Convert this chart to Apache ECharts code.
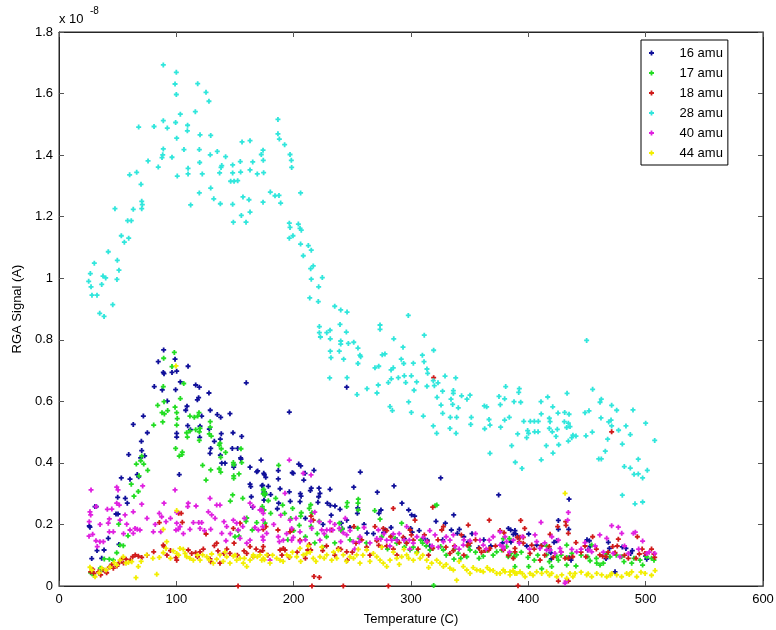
<!DOCTYPE html>
<html><head><meta charset="utf-8">
<script src="https://cdn.jsdelivr.net/npm/echarts@6/dist/echarts.min.js"></script>
<style>html,body{margin:0;padding:0;background:#fff}#c{width:776px;height:630px}</style>
</head><body><div id="c"></div>
<script>
// Values in units of 1e-8 A
const xTicks = [0, 100, 200, 300, 400, 500, 600];
const yTicks = [0, 0.2, 0.4, 0.6, 0.8, 1.0, 1.2, 1.4, 1.6, 1.8];
const seriesNames = ['16 amu', '17 amu', '18 amu', '28 amu', '40 amu', '44 amu'];

const amu16 = [[89.2,0.767],[84.6,0.729],[98.9,0.737],[110,0.714],[88.9,0.694],[89.5,0.69],[96.3,0.694],[100.3,0.698],[103.4,0.663],[81.2,0.648],[88,0.637],[99.4,0.638],[116.5,0.653],[119.6,0.646],[127.8,0.627],[159.6,0.66],[92.3,0.601],[109.1,0.584],[108,0.571],[119,0.612],[117.9,0.605],[128.9,0.571],[134.9,0.557],[137.8,0.548],[145.7,0.56],[71.9,0.552],[121.6,0.552],[109.7,0.521],[112,0.508],[120.2,0.519],[128.1,0.51],[138.3,0.495],[148.3,0.498],[155.7,0.486],[63.3,0.525],[100.3,0.496],[100.3,0.484],[119.9,0.483],[137.5,0.477],[132.4,0.47],[75.3,0.498],[70.2,0.47],[70.5,0.44],[128.7,0.431],[129.3,0.447],[147.7,0.447],[152.3,0.447],[154.8,0.416],[137.5,0.425],[59.4,0.427],[69.6,0.416],[73,0.423],[102.5,0.362],[138.7,0.399],[141.5,0.399],[148.9,0.386],[149.2,0.394],[155.1,0.412],[162.8,0.386],[169.3,0.374],[172.2,0.409],[174.5,0.366],[176.2,0.353],[53.1,0.351],[60.5,0.347],[66.7,0.362],[67.9,0.355],[162.8,0.331],[163.4,0.323],[173,0.326],[178.4,0.324],
[50,0.288],[56.5,0.285],[58.2,0.269],[31.8,0.258],[30.7,0.258],[48.6,0.234],[50.3,0.234],[25.8,0.195],[26.4,0.191],[42,0.155],[51.1,0.135],[32.4,0.115],[38.4,0.117],[36.4,0.09],[27.9,0.089],[163.9,0.29],[165,0.256],[175,0.306],[175.6,0.296],
[168.5,0.371],[175,0.362],[173.6,0.327],[174.7,0.305],[186.9,0.375],[186.9,0.348],[188.4,0.316],[180.4,0.297],[174.7,0.279],[187.2,0.269],[186.1,0.251],[198.8,0.368],[199.7,0.366],[204.3,0.396],[206,0.39],[209.7,0.366],[208.6,0.344],[217.3,0.376],[196.3,0.306],[205.7,0.3],[206.3,0.292],[215,0.318],[214.2,0.31],[221.6,0.318],[222.4,0.301],[221.3,0.29],[220.7,0.272],[197.1,0.275],[205.4,0.274],[231,0.314],[228.7,0.269],[231.2,0.262],[235.2,0.26],[251.2,0.321],[256.8,0.37],[239.5,0.249],[245.2,0.214],[240.6,0.204],[241.4,0.186],[254.6,0.254],[254.3,0.236],[271.3,0.305],[285.5,0.325],[274.4,0.247],[272.7,0.236],[292.3,0.269],[298,0.247],[300.5,0.231],[303.1,0.227],[325.3,0.351],[262.5,0.172],[276.6,0.173],[278.1,0.182],[294.3,0.154],[299.7,0.187],[301,0.175],[310.5,0.154],[313.9,0.149],[321.3,0.21],[329.3,0.204],[336.4,0.231],[334.4,0.182],[341.2,0.184],[339.5,0.171],[348.8,0.143],[349.4,0.13],[357.7,0.124],[374.7,0.296],[383,0.187],[385,0.182],[389.2,0.169],[391.2,0.158],
[196.3,0.565],[245.2,0.646],
[210,0.22],[225,0.2],[232,0.23],[248,0.19],[260,0.2],[268,0.17],[283,0.19],[288,0.15],[307,0.18],[316,0.13],[327,0.15],[345,0.16],[352,0.17],[362,0.15],[368,0.13],[378,0.14],
[434.7,0.282],[425.6,0.213],[425.6,0.184],[434.4,0.184],[424.2,0.147],[421.9,0.142],[400.3,0.169],[388.6,0.18],[387.2,0.168],[385.2,0.143],[398.6,0.13],[407.1,0.133],[411.2,0.131],[417.9,0.12],[419.1,0.108],[450,0.15],[452,0.147],[450.6,0.117],[468.2,0.142],[469.1,0.122],[480.1,0.127],[483.2,0.122],[488.6,0.115],[487.2,0.106],[500,0.097],[466.2,0.089],[473.9,0.046],[434.9,0.092],[436.4,0.084],[419.6,0.088],[452.6,0.129],[500.9,0.087]];

const amu17 = [[98.3,0.759],[89.2,0.74],[96.3,0.713],[106.3,0.658],[88.9,0.648],[103.4,0.609],[84.1,0.587],[89.5,0.599],[92.6,0.57],[87.8,0.563],[89.8,0.559],[98.9,0.581],[80.7,0.523],[88.4,0.533],[100.3,0.563],[100.8,0.544],[100.3,0.523],[111.6,0.552],[115.3,0.548],[119.3,0.563],[118.2,0.552],[116.5,0.508],[111.6,0.504],[109.4,0.484],[108.8,0.498],[120.2,0.512],[119.6,0.501],[119.6,0.473],[128.9,0.534],[128.9,0.516],[129.8,0.487],[128.1,0.494],[137.2,0.464],[136.6,0.458],[138.3,0.446],[142,0.434],[137.8,0.418],[155.1,0.446],[148.6,0.401],[148.9,0.394],[155.7,0.401],[153.4,0.364],[148.9,0.358],[148.9,0.35],[136.6,0.381],[137.8,0.37],[129.3,0.377],[122.4,0.392],[125.3,0.344],[105.1,0.435],[104.8,0.427],[102.5,0.422],[99.4,0.447],[75.6,0.376],[72.2,0.396],[69.6,0.407],[70.5,0.422],[68.2,0.358],[65.9,0.396],[61.6,0.331],
[63.9,0.292],[67.6,0.307],[52,0.133],[54.8,0.131],[50.9,0.201],[58.8,0.163],[49.2,0.108],[42.9,0.087],[46.3,0.084],[38.6,0.088],[35.2,0.058],[36.9,0.054],[27,0.043],[29.6,0.035],[148,0.296],[146,0.276],[156.6,0.285],[160,0.221],[159.4,0.21],[152.6,0.18],[153.4,0.162],[150,0.16],[174.5,0.314],[175.8,0.301],[178.4,0.277],[164.7,0.182],
[174.1,0.312],[174.1,0.299],[175.3,0.295],[173.3,0.258],[174.7,0.247],[168.5,0.206],[175.6,0.204],[180.4,0.236],[184.7,0.285],[190.6,0.263],[192.3,0.236],[187.2,0.392],[197.5,0.219],[199.1,0.252],[206.5,0.238],[206,0.227],[204.8,0.197],[214.5,0.264],[213.3,0.252],[215.6,0.238],[214.8,0.194],[221.8,0.21],[220.1,0.17],[224.7,0.126],[240.3,0.18],[241.2,0.186],[238.9,0.204],[245.7,0.271],[245.2,0.258],[255.1,0.282],[254.8,0.269],[255.1,0.247],[254.6,0.188],[255.9,0.155],[269.1,0.245],[273.6,0.217],[283.2,0.162],[286.4,0.155],[292,0.204],[299.2,0.117],[308.2,0.149],[309.9,0.139],[320.5,0.261],[322,0.263],[319.3,0.002],[318.4,0.122],[325.3,0.128],[327.6,0.117],[336.6,0.087],[342.4,0.09],[350.3,0.117],[348.8,0.13],[361.6,0.097],[365,0.115],[377.3,0.117],[381.5,0.128],[390,0.101],
[287.8,0.139],[294.3,0.126],[302,0.126],[316.2,0.117],[340.3,0.106],[347.5,0.095],[373,0.111],[385.2,0.106],
[195,0.15],[200,0.18],[210,0.16],[218,0.14],[228,0.16],[235,0.14],[248,0.15],[262,0.14],[275,0.16],[280,0.12],[296,0.14],[305,0.11],[313,0.13],[330,0.1],[337,0.12],[355,0.11],[358,0.09],[370,0.1],[394,0.11],[408,0.1],[428,0.1],[445,0.1],[458,0.09],[475,0.1],[490,0.09],[505,0.09],
[387.8,0.095],[388.6,0.063],[382.9,0.095],[399.7,0.093],[400.3,0.063],[405.1,0.084],[411.4,0.056],[415.6,0.101],[417.9,0.079],[419.9,0.063],[425.6,0.084],[424.2,0.095],[432.7,0.068],[432.7,0.093],[437,0.106],[440.6,0.065],[450.6,0.095],[452.6,0.082],[458.3,0.074],[461.1,0.068],[463.9,0.074],[466.8,0.104],[469.6,0.095],[479.5,0.095],[481.5,0.079],[488.1,0.074],[495.2,0.084],[497.4,0.068],[507.1,0.084],[500.9,0.095],[383.8,0.154],[378.7,0.154],[415.6,0.13],[432.7,0.133],[454,0.133]];

const amu18 = [[27,0.046],[28.7,0.054],[29.8,0.041],[33.5,0.046],[35.5,0.036],[37.8,0.052],[40.6,0.043],[42.9,0.061],[46.3,0.058],[49.4,0.065],[51.4,0.076],[53.4,0.087],[57.1,0.087],[60.8,0.084],[62.8,0.095],[65,0.101],[67.6,0.097],[70.5,0.093],[80.7,0.111],[85.5,0.206],[89.5,0.128],[88.9,0.133],[99.7,0.092],[100.3,0.084],[102,0.236],[104.2,0.236],[105.1,0.207],[110.2,0.117],[113.1,0.106],[116.5,0.108],[120.2,0.111],[125.3,0.169],[128.7,0.088],[129.3,0.079],[132.4,0.131],[134.4,0.139],[135.5,0.114],[137.2,0.074],[140.6,0.106],[145.7,0.106],[148.6,0.187],[149.2,0.139],[154.3,0.204],[157.7,0.114],[160,0.106],[162.8,0.128],[165.6,0.095],[171.3,0.111],[176.4,0.193],[174.1,0.128],[152.6,0.0],
[75,0.1],[92,0.1],[95,0.115],[118,0.095],[123,0.12],[143,0.12],[152,0.1],[168,0.12],[178,0.1],[55,0.075],[45,0.07],
[173.6,0.115],[174.1,0.184],[186.6,0.182],[188.4,0.117],[191.2,0.122],[192.6,0.117],[196.9,0.176],[198.3,0.182],[196.3,0.093],[205.4,0.149],[212,0.117],[214.5,0.117],[213.3,0.135],[214.8,0.227],[216.7,0.214],[217.3,0.031],[221.9,0.028],[215.6,0.0],[224.7,0.115],[232.4,0.182],[238.1,0.122],[240.1,0.119],[245.2,0.111],[245.7,0.084],[242.3,0.0],[251.4,0.193],[253.1,0.139],[262.2,0.126],[269.3,0.193],[270.8,0.147],[272.5,0.132],[276.4,0.187],[279.3,0.18],[282.7,0.16],[284.9,0.252],[280.7,0.0],[275,0.126],[279.3,0.13],[290,0.141],[293.4,0.158],[296.3,0.139],[299.2,0.182],[300.3,0.166],[302,0.149],[303.4,0.214],[318.5,0.256],[311.4,0.166],[313.9,0.144],[318.5,0.122],[327.6,0.193],[326.2,0.182],[329.8,0.126],[333.2,0.106],[336.1,0.115],[342.9,0.166],[348.8,0.198],[348,0.132],[350.3,0.139],[366.7,0.214],[367.3,0.122],[366.2,0.117],[358.2,0.122],[363.1,0.115],[375.9,0.18],[379.3,0.173],[378.7,0.117],[388.6,0.122],[392.3,0.144],
[190,0.1],[203,0.11],[210,0.09],[228,0.13],[235,0.1],[250,0.11],[258,0.15],[265,0.1],[285,0.12],[288,0.1],[306,0.12],[315,0.1],[323,0.15],[337,0.13],[345,0.1],[355,0.15],[360,0.11],[372,0.13],[383,0.1],[405,0.12],[414,0.1],[428,0.11],[445,0.11],[458,0.12],[468,0.11],[482,0.1],[497,0.12],[505,0.12],
[319.3,0.677],[471,0.501],
[393.5,0.213],[391.2,0.001],[390.6,0.158],[392.9,0.158],[396.9,0.187],[395.7,0.158],[395.7,0.139],[388.6,0.111],[387.2,0.09],[401.4,0.106],[402.9,0.133],[410,0.084],[411,0.13],[418.5,0.168],[417.9,0.128],[421.3,0.093],[425,0.193],[431.8,0.209],[432.1,0.197],[434.1,0.171],[425.6,0.016],[431.3,0.09],[434.1,0.09],[437.8,0.095],[440.6,0.141],[434.1,0.016],[448.3,0.13],[449.1,0.095],[454.8,0.16],[460.9,0.101],[463.3,0.097],[466.2,0.095],[471.9,0.128],[473.9,0.108],[475.8,0.13],[476.7,0.152],[485.2,0.09],[491.8,0.09],[492.9,0.16],[494.6,0.104],[499.4,0.106],[507.1,0.104],[507.7,0.093]];

const amu28 = [[88.9,1.693],[100,1.669],[98.9,1.631],[118.2,1.632],[125.3,1.604],[100,1.597],[127.8,1.575],[116.2,1.541],[103.4,1.533],[186.6,1.516],[88.9,1.512],[99.4,1.506],[109.6,1.497],[67.9,1.491],[81,1.493],[92.3,1.488],[109.4,1.479],[186.6,1.469],[120.2,1.466],[129.3,1.464],[100.3,1.455],[187.8,1.452],[156,1.443],[162.8,1.447],[192.3,1.434],[88.9,1.42],[106.5,1.418],[119.6,1.418],[173.9,1.416],[134.9,1.412],[128.9,1.401],[196.9,1.402],[172.4,1.402],[88.4,1.401],[87.8,1.392],[96.3,1.393],[142,1.395],[75.9,1.381],[119.9,1.376],[154.5,1.379],[165.1,1.378],[174.1,1.383],[198,1.383],[148,1.368],[138.7,1.366],[138.1,1.36],[84.6,1.361],[110,1.357],[198.3,1.36],[162.8,1.352],[154.8,1.345],[148,1.342],[136.9,1.342],[110,1.339],[122.1,1.339],[169,1.339],[174.4,1.343],[60.2,1.336],[66.2,1.344],[100.8,1.332],[146.3,1.315],[149.2,1.315],[152.3,1.317],[69.9,1.305],[129.3,1.293],[180.1,1.28],[119.6,1.277],[205.9,1.277],[184.1,1.268],[187.5,1.269],[156.8,1.264],[131.9,1.258],[161.9,1.255],[173.9,1.247],[70.5,1.25],[71,1.239],[137.5,1.242],[148,1.24],[112.2,1.238],[188.9,1.244],[47.7,1.226],[63.3,1.224],[70.5,1.226],[162.8,1.215],[155.4,1.204],[58.5,1.187],[61.6,1.187],[148.6,1.182],[159.4,1.182],[196.3,1.179],[204,1.176],[196.9,1.165],[205.4,1.162],[206.5,1.156],[53.1,1.138],[59.4,1.13],[199.4,1.138],[196.3,1.13],[55.7,1.117],[205.9,1.111],[212.5,1.106],[215,1.091],[42,1.086],[208.2,1.073],[30.1,1.049],[49.7,1.058],[216.7,1.04],[214.5,1.031],[51.1,1.026],[26.7,1.015],[37.5,1.007],[39.8,1.001],[49.4,0.996],[215,0.997],[25.3,0.99],[36.4,0.98],[27.3,0.972],[28.1,0.945],[32.4,0.945],[213.7,0.936],[45.8,0.914],[34.7,0.886],[38.4,0.876],
[224.4,1.002],[221.3,0.972],[221,0.924],[235,0.909],[240.1,0.897],[245.5,0.89],[239.5,0.85],[221.9,0.843],[231,0.831],[228.2,0.823],[221.9,0.823],[222.8,0.809],[231.2,0.803],[244.9,0.825],[240.1,0.796],[240.1,0.786],[246.6,0.788],[251.2,0.792],[254.8,0.773],[273.6,0.848],[273.6,0.834],[297.7,0.879],[285.3,0.803],[311.3,0.815],[293.2,0.776],[231.2,0.763],[238.9,0.763],[231.8,0.742],[256.5,0.75],[257.1,0.745],[242.6,0.737],[254.8,0.723],[275.5,0.751],[277.8,0.754],[291.7,0.737],[293.8,0.723],[302,0.724],[309.7,0.75],[311.1,0.729],[319.3,0.766],[269.3,0.709],[272.5,0.714],[283,0.702],[284.9,0.709],[313.6,0.705],[314.2,0.691],[230.7,0.676],[245.5,0.677],[289.2,0.677],[294.3,0.683],[300.3,0.683],[283.2,0.673],[319,0.667],[323,0.66],[329,0.682],[338.1,0.676],[295.5,0.661],[280.7,0.661],[272.1,0.653],[313.6,0.649],[319.9,0.651],[304.8,0.663],[262.5,0.641],[271,0.627],[254,0.622],[302.6,0.636],[326.9,0.633],[336.1,0.635],[336.1,0.626],[343.1,0.618],[350.3,0.62],[322.2,0.613],[334.1,0.607],[347.7,0.607],[298,0.598],[325.6,0.588],[335.5,0.59],[340.3,0.579],[282.1,0.583],[362.5,0.585],[375,0.616],[380.7,0.648],[392.3,0.641],[391.8,0.629],[379.8,0.608],[387.8,0.599],[393.5,0.597],[376.1,0.589],[364.5,0.582],
[284.1,0.57],[300.3,0.564],[310.5,0.552],[319,0.52],[321.9,0.496],[333.2,0.512],[338.4,0.496],[350.9,0.525],[362.8,0.511],[367.3,0.523],[376.4,0.516],[367.3,0.431],[385.8,0.456],[388.9,0.402],[390.9,0.494],[327,0.561],[333.5,0.548],[338.9,0.548],[351.4,0.548],[366.5,0.541],[379.8,0.539],[383.8,0.548],
[449.7,0.798],[433,0.626],[454.8,0.639],[416.5,0.614],[410.8,0.599],[462.2,0.607],[461.1,0.597],[471,0.587],[475.3,0.571],[489.2,0.572],[420.8,0.582],[425.3,0.562],[431,0.564],[434.7,0.558],[411,0.559],[451.7,0.569],[448.3,0.563],[461.9,0.546],[468.5,0.533],[470.5,0.539],[471,0.52],[476.9,0.506],[483.2,0.52],[486.9,0.492],[500,0.529],[507.7,0.473],[396.1,0.535],[401.7,0.535],[405.1,0.535],[408.5,0.535],[399.4,0.505],[400.2,0.496],[405.4,0.501],[408.3,0.501],[398.6,0.482],[417.9,0.545],[418.5,0.534],[417.9,0.512],[420.4,0.501],[424.7,0.509],[430.7,0.534],[434.1,0.529],[432.7,0.515],[435.5,0.518],[437,0.482],[438,0.49],[440.6,0.487],[434.1,0.471],[423.6,0.486],[425.9,0.459],[415.3,0.456],[421,0.432],[411,0.41],[394.6,0.382],[449.1,0.488],[454.5,0.5],[462.2,0.413],[460,0.413],[465.6,0.438],[467.6,0.477],[480.1,0.461],[481.8,0.388],[486.9,0.383],[493.7,0.412],[490.1,0.363],[493.7,0.364],[497.4,0.351],[501.4,0.376],[480.1,0.295],[490.9,0.267],[497.4,0.273]];

const amu40 = [[27.3,0.312],[26.4,0.241],[27,0.231],[25.8,0.209],[28.7,0.168],[25.6,0.162],[31.5,0.147],[34.9,0.144],[37.8,0.144],[31.5,0.258],[32.6,0.128],[41.2,0.249],[42.9,0.218],[42,0.204],[42.9,0.176],[49.2,0.321],[50.3,0.312],[49.2,0.269],[51.4,0.263],[46.3,0.176],[52,0.214],[56.3,0.231],[57.7,0.201],[60.5,0.182],[63.3,0.171],[63.3,0.241],[64.8,0.187],[66.7,0.184],[69,0.182],[71.3,0.325],[70.5,0.266],[80.4,0.176],[85.5,0.236],[87.5,0.225],[89.5,0.269],[86.7,0.176],[91.2,0.209],[98.9,0.312],[99.7,0.182],[101.7,0.184],[100.3,0.239],[100.3,0.204],[103.1,0.193],[110.2,0.269],[109.7,0.258],[111.6,0.184],[114.5,0.206],[116.8,0.26],[119.1,0.206],[121.6,0.206],[120.2,0.187],[128.7,0.285],[129.3,0.184],[127.3,0.241],[130.1,0.231],[134.4,0.263],[137.2,0.263],[140.6,0.209],[142.9,0.193],[138.7,0.171],[142.3,0.147],[148.6,0.214],[151.4,0.204],[152.8,0.182],[154.3,0.155],[156.6,0.193],[160,0.139],[162.8,0.269],[165.6,0.258],[171.3,0.247],[174.1,0.214],[177,0.171],[169.9,0.182],
[35,0.2],[45,0.25],[55,0.17],[75,0.22],[82,0.2],[95,0.22],[106,0.17],[124,0.18],[133,0.22],[146,0.17],[158,0.22],[167,0.19],
[172.8,0.247],[174.1,0.236],[173.6,0.193],[173.6,0.16],[174.1,0.149],[162.8,0.149],[179.8,0.084],[186.9,0.16],[187.8,0.144],[191.2,0.149],[192.6,0.301],[196.3,0.409],[196.9,0.214],[198.3,0.187],[198.3,0.149],[199.7,0.158],[205.4,0.176],[208.2,0.366],[214.8,0.361],[215.4,0.187],[205.4,0.144],[214.5,0.211],[221.9,0.209],[223.9,0.182],[222.4,0.149],[231,0.209],[231,0.182],[228.2,0.182],[233.3,0.182],[238.9,0.187],[242.3,0.173],[240.1,0.144],[248,0.18],[245.2,0.166],[250.8,0.144],[256.5,0.16],[255.9,0.143],[270.8,0.154],[272.2,0.182],[274.2,0.152],[279.3,0.149],[283.5,0.149],[284.9,0.169],[287.8,0.149],[296.3,0.193],[294,0.149],[298.6,0.149],[302,0.139],[310.5,0.158],[313.4,0.144],[320.5,0.166],[323.3,0.126],[327.6,0.144],[333.2,0.149],[336.1,0.166],[337.5,0.128],[344.6,0.133],[350.3,0.147],[358.8,0.149],[361.6,0.133],[366.7,0.149],[375.9,0.133],[378.7,0.128],[381.5,0.144],[387.2,0.149],[392.3,0.139],
[183,0.2],[189,0.23],[194,0.17],[202,0.22],[210,0.15],[218,0.24],[226,0.17],[235,0.2],[244,0.22],[252,0.12],[260,0.19],[265,0.14],[277,0.17],[282,0.13],[290,0.17],[299,0.12],[305,0.16],[316,0.18],[318,0.13],[330,0.16],[341,0.12],[345,0.15],[355,0.17],[364,0.12],[370,0.16],[384,0.11],[395,0.16],[401,0.12],[414,0.14],[420,0.16],[428,0.11],[445,0.12],[457,0.13],[464,0.11],[482,0.13],[494,0.12],[503,0.11],
[410.8,0.207],[434.1,0.239],[433.5,0.214],[431.3,0.009],[432.1,0.016],[375.9,0.176],[380.1,0.16],[378.7,0.122],[405.7,0.166],[407.1,0.144],[415.6,0.117],[418.5,0.117],[422.7,0.106],[409.9,0.122],[425.6,0.149],[427,0.122],[437,0.119],[441.2,0.111],[448.3,0.141],[451.1,0.117],[454,0.111],[460.9,0.166],[466.8,0.155],[471,0.196],[476.7,0.191],[479.6,0.171],[489.5,0.171],[491.2,0.175],[497.4,0.146],[500.9,0.106],[507.7,0.106],[472.4,0.106],[478.1,0.095],[485.2,0.106]];

const amu44 = [[26.4,0.061],[27.9,0.052],[30.7,0.03],[34.3,0.043],[36.4,0.058],[40.1,0.052],[43.5,0.061],[47.1,0.076],[49.2,0.068],[52,0.084],[54.8,0.095],[57.1,0.074],[59.1,0.076],[62,0.079],[65.6,0.027],[67.6,0.063],[74.7,0.101],[83.3,0.038],[85.5,0.093],[88.9,0.108],[91.2,0.122],[91.8,0.144],[97.4,0.114],[100.3,0.106],[103.1,0.122],[105.9,0.119],[107.4,0.106],[108.8,0.095],[111.6,0.09],[114.5,0.084],[120.2,0.084],[122.4,0.101],[125.9,0.095],[130.1,0.104],[131.5,0.074],[134.4,0.087],[137.2,0.101],[141.5,0.111],[142.9,0.095],[145.7,0.074],[148.6,0.097],[151.4,0.084],[154.3,0.09],[157.1,0.074],[160,0.063],[162.8,0.084],[165.6,0.101],[169,0.095],[172.8,0.084],[177,0.101],[99.7,0.715],[100.3,0.245],[88.9,0.184],
[70,0.08],[80,0.09],[95,0.09],[102,0.1],[118,0.1],[128,0.085],[140,0.08],[150,0.1],[158,0.09],[175,0.085],
[165.6,0.095],[171.3,0.101],[174.1,0.09],[179.8,0.074],[185.5,0.09],[188.4,0.084],[194.1,0.101],[196.9,0.095],[202.6,0.095],[208.2,0.101],[211.1,0.106],[216.7,0.09],[222.4,0.095],[228.2,0.101],[232.4,0.084],[236.7,0.09],[242.3,0.101],[248,0.095],[253.7,0.101],[256.5,0.074],[262.2,0.117],[267.9,0.106],[270.8,0.095],[273.6,0.084],[276.4,0.074],[279.3,0.063],[282.1,0.084],[287.8,0.09],[292,0.095],[296.3,0.101],[302,0.084],[307.7,0.09],[313.4,0.084],[317.6,0.074],[321.9,0.084],[324.7,0.074],[327.6,0.063],[333.2,0.058],[338.9,0.019],[336.1,0.052],[344.6,0.063],[347.5,0.052],[350.3,0.041],[356,0.052],[361.6,0.046],[367.3,0.052],[373,0.041],[378.7,0.052],[384.4,0.046],[390.1,0.041],
[205.4,0.122],[212.5,0.13],[223.9,0.126],[238.1,0.117],[255.1,0.119],[275,0.126],[294,0.119],[304.8,0.106],
[182,0.1],[191,0.08],[199,0.11],[206,0.08],[214,0.11],[219,0.08],[226,0.09],[234,0.11],[245,0.08],[251,0.09],[259,0.1],[265,0.08],[285,0.11],[290,0.07],[298,0.09],[310,0.1],[315,0.06],[330,0.07],[341,0.08],[353,0.06],[359,0.05],[365,0.06],[370,0.05],[387,0.05],[395,0.04],[404,0.035],[418,0.035],[438,0.03],[445,0.045],[451,0.04],[470,0.035],[486,0.037],[496,0.045],[505,0.035],
[375.9,0.041],[380.1,0.046],[384.4,0.036],[388.6,0.041],[392.9,0.046],[397.2,0.03],[401.4,0.041],[407.1,0.046],[411.4,0.041],[415.6,0.046],[419.9,0.041],[424.2,0.03],[428.5,0.036],[431.3,0.301],[432.7,0.025],[435.5,0.041],[439.8,0.041],[449.7,0.036],[454,0.03],[458.3,0.041],[462.5,0.036],[466.8,0.03],[471,0.041],[475.3,0.036],[479.5,0.03],[483.8,0.041],[488.1,0.046],[492.4,0.03],[499.5,0.041],[508,0.05]];

const seriesData = [amu16, amu17, amu18, amu28, amu40, amu44];
const seriesColors = ['#10109a', '#22dd22', '#d01a1a', '#30e6dc', '#e020e0', '#f2ee00'];

const FONT = 'Liberation Sans, Arial, sans-serif';
const plus = 'path://M1.6,0H3.4V1.6H5V3.4H3.4V5H1.6V3.4H0V1.6H1.6Z';

const chart = echarts.init(document.getElementById('c'), null, {renderer: 'canvas'});
const axisCommon = {
  type: 'value',
  axisLine: {show: true, onZero: false, lineStyle: {color: '#262626', width: 1}},
  axisTick: {show: true, inside: true, length: 5, lineStyle: {color: '#555'}},
  splitLine: {show: false}
};
chart.setOption({
  animation: false,
  backgroundColor: '#fff',
  grid: {left: 59, right: 13, top: 32, bottom: 44, show: true, borderColor: '#262626', borderWidth: 1,
         containLabel: false, outerBoundsMode: 'none'},
  xAxis: [
    Object.assign({}, axisCommon, {
      position: 'bottom', min: xTicks[0], max: xTicks[xTicks.length - 1], interval: xTicks[1] - xTicks[0],
      axisLabel: {color: '#000', fontSize: 13, fontFamily: FONT, margin: 7},
      name: 'Temperature (C)', nameLocation: 'middle', nameGap: 27,
      nameTextStyle: {color: '#000', fontSize: 13, fontFamily: FONT}
    }),
    Object.assign({}, axisCommon, {
      position: 'top', min: xTicks[0], max: xTicks[xTicks.length - 1], interval: xTicks[1] - xTicks[0],
      axisLabel: {show: false}
    })
  ],
  yAxis: [
    Object.assign({}, axisCommon, {
      position: 'left', min: yTicks[0], max: yTicks[yTicks.length - 1], interval: 0.2,
      axisLabel: {color: '#000', fontSize: 13, fontFamily: FONT, margin: 6,
        formatter: v => String(Math.round(v * 10) / 10)},
      name: 'RGA Signal (A)', nameLocation: 'middle', nameGap: 28, nameRotate: 90,
      nameTextStyle: {color: '#000', fontSize: 13, fontFamily: FONT}
    }),
    Object.assign({}, axisCommon, {
      position: 'right', min: yTicks[0], max: yTicks[yTicks.length - 1], interval: 0.2,
      axisLabel: {show: false}
    })
  ],
  legend: {
    show: true, orient: 'vertical', left: 641, top: 40,
    data: seriesNames.map(n => ({name: n, icon: plus})),
    itemWidth: 46, itemHeight: 5, itemGap: 6,
    padding: [6, 5, 5, 8],
    backgroundColor: '#fff', borderColor: '#000', borderWidth: 1, borderRadius: 0,
    textStyle: {color: '#000', fontSize: 13, fontFamily: FONT, lineHeight: 14},
    selectedMode: false
  },
  graphic: [
    {type: 'text', left: 59, top: 13, style: {text: 'x 10', fontSize: 13, fontFamily: FONT, fill: '#000'}},
    {type: 'text', left: 90, top: 6, style: {text: '-8', fontSize: 10, fontFamily: FONT, fill: '#000'}}
  ],
  series: seriesNames.map((name, i) => ({
    name: name, type: 'scatter', xAxisIndex: 0, yAxisIndex: 0,
    symbol: plus, symbolSize: 5,
    itemStyle: {color: seriesColors[i], opacity: 1},
    emphasis: {disabled: true},
    data: seriesData[i]
  }))
});
</script>
</body></html>
